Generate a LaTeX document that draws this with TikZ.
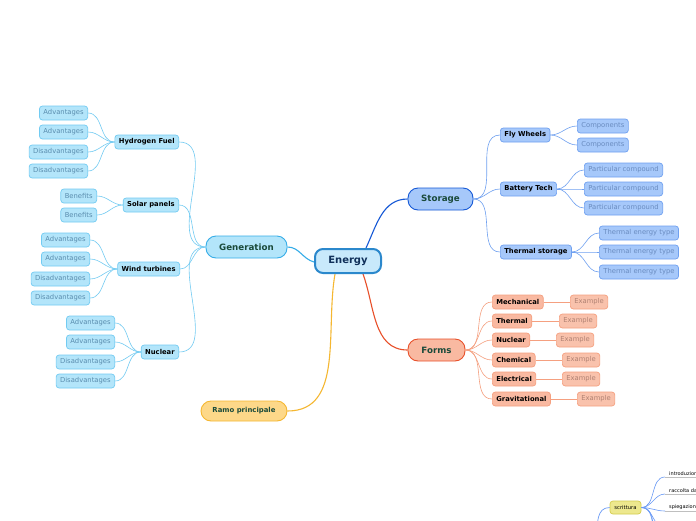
\documentclass[tikz,border=0pt]{standalone}
\usepackage{fontspec}
\setmainfont{DejaVu Sans}
\usetikzlibrary{backgrounds}
\definecolor{gfill}{HTML}{B3E5FA}
\definecolor{gline}{HTML}{72CBF2}
\definecolor{gtext}{HTML}{5A8DAE}
\definecolor{gmain}{HTML}{36ADE8}
\definecolor{efill}{HTML}{C8E9FB}
\definecolor{eline}{HTML}{2B88CC}
\definecolor{etext}{HTML}{10305A}
\definecolor{sfill}{HTML}{A6C8FA}
\definecolor{sline}{HTML}{6FA0F0}
\definecolor{smain}{HTML}{1558D6}
\definecolor{stext}{HTML}{6A8CC0}
\definecolor{ffill}{HTML}{F9B9A1}
\definecolor{fline}{HTML}{F5A080}
\definecolor{fmain}{HTML}{E8502A}
\definecolor{ftext}{HTML}{B08273}
\definecolor{xfill}{HTML}{F9C2AC}
\definecolor{rfill}{HTML}{FDD889}
\definecolor{rline}{HTML}{F5B731}
\definecolor{yfill}{HTML}{EDE88E}
\definecolor{yline}{HTML}{D4CC4E}
\definecolor{bline}{HTML}{6A9AF5}
\definecolor{mtext}{HTML}{1A4A3A}
\begin{document}
\begin{tikzpicture}[x=1pt,y=-1pt,
  base/.style={rounded corners=3pt, minimum height=14pt, inner xsep=4pt, inner ysep=0pt,
    font=\fontsize{6.8}{8}\selectfont, line width=0.7pt},
  bchild/.style={base, font=\fontsize{6.8}{8}\selectfont\bfseries, text=black},
  gleaf/.style={base, fill=gfill, draw=gline, text=gtext},
  gchild/.style={bchild, fill=gfill, draw=gline},
  sleaf/.style={base, fill=sfill, draw=sline, text=stext},
  schild/.style={bchild, fill=sfill, draw=sline},
  fleaf/.style={base, fill=xfill, draw=fline, text=ftext},
  fchild/.style={bchild, fill=ffill, draw=fline},
  topic/.style={rounded corners=10pt, minimum height=22pt, inner sep=0pt, line width=0.9pt,
    font=\fontsize{8.7}{10}\selectfont\bfseries, text=mtext},
  maincon/.style={line width=1.1pt},
  gcon/.style={draw=gline, line width=0.6pt},
  scon/.style={draw=sline, line width=0.6pt},
  fcon/.style={draw=fline, line width=0.6pt},
]
\clip (0,0) rectangle (696,520);

% main nodes
\node[rounded corners=8pt, minimum width=66pt, minimum height=24pt, inner sep=0pt,
  fill=efill, draw=eline, line width=2pt, text=etext,
  font=\fontsize{10}{12}\selectfont\bfseries] (en) at (348,261) {Energy};
\node[topic, minimum width=81pt, fill=gfill, draw=gmain] (ge) at (246.5,247) {Generation};
\node[topic, minimum width=65pt, fill=sfill, draw=smain] (st) at (440.5,199) {Storage};
\node[topic, minimum width=57pt, fill=ffill, draw=fmain] (fo) at (436.5,350) {Forms};
\node[topic, minimum width=86pt, minimum height=20pt, fill=rfill, draw=rline,
  font=\fontsize{6.9}{8}\selectfont\bfseries] (ra) at (244,411) {Ramo principale};

% main connectors (under the nodes)
\begin{scope}[on background layer]
\fill[white] (0,0) rectangle (696,520);
\draw[maincon, draw=gmain] ([yshift=-1pt]en.west) to[out=165,in=0] (ge.east);
\draw[maincon, draw=smain] ([xshift=18pt]en.north) to[out=65,in=180] (st.west);
\draw[maincon, draw=fmain] ([xshift=15pt]en.south) to[out=-70,in=180] (fo.west);
\draw[maincon, draw=rline] ([xshift=-13pt]en.south) to[out=-100,in=0] (ra.east);
\end{scope}

% Generation
\node[gchild, anchor=east] (g1) at (179,142) {Hydrogen Fuel};
\node[gchild, anchor=east] (g2) at (179,205) {Solar panels};
\node[gchild, anchor=east] (g3) at (180,269) {Wind turbines};
\node[gchild, anchor=east] (g4) at (179,352) {Nuclear};
\foreach \c in {g1,g2,g3,g4} \draw[gcon] (ge.west) to[out=180,in=0] (\c.east);

\node[gleaf, anchor=east] (g11) at (88,113) {Advantages};
\node[gleaf, anchor=east] (g12) at (88,132) {Advantages};
\node[gleaf, anchor=east] (g13) at (88,152) {Disadvantages};
\node[gleaf, anchor=east] (g14) at (88,171) {Disadvantages};
\node[gleaf, anchor=east] (g21) at (97,196) {Benefits};
\node[gleaf, anchor=east] (g22) at (97,215) {Benefits};
\node[gleaf, anchor=east] (g31) at (90,240) {Advantages};
\node[gleaf, anchor=east] (g32) at (90,259) {Advantages};
\node[gleaf, anchor=east] (g33) at (90,279) {Disadvantages};
\node[gleaf, anchor=east] (g34) at (90,298) {Disadvantages};
\node[gleaf, anchor=east] (g41) at (115,323) {Advantages};
\node[gleaf, anchor=east] (g42) at (115,342) {Advantages};
\node[gleaf, anchor=east] (g43) at (115,362) {Disadvantages};
\node[gleaf, anchor=east] (g44) at (115,381) {Disadvantages};
\foreach \p/\c in {g1/g11,g1/g12,g1/g13,g1/g14,g2/g21,g2/g22,g3/g31,g3/g32,g3/g33,g3/g34,g4/g41,g4/g42,g4/g43,g4/g44}
  \draw[gcon] (\p.west) to[out=180,in=0] (\c.east);

% Storage
\node[schild, anchor=west] (s1) at (500,135) {Fly Wheels};
\node[schild, anchor=west] (s2) at (500,189) {Battery Tech};
\node[schild, anchor=west] (s3) at (500,252) {Thermal storage};
\foreach \c in {s1,s2,s3} \draw[scon] (st.east) to[out=0,in=180] (\c.west);
\node[sleaf, anchor=west] (s11) at (577,126) {Components};
\node[sleaf, anchor=west] (s12) at (577,145) {Components};
\node[sleaf, anchor=west] (s21) at (584,170) {Particular compound};
\node[sleaf, anchor=west] (s22) at (584,189) {Particular compound};
\node[sleaf, anchor=west] (s23) at (584,208) {Particular compound};
\node[sleaf, anchor=west] (s31) at (599,233) {Thermal energy type};
\node[sleaf, anchor=west] (s32) at (599,252) {Thermal energy type};
\node[sleaf, anchor=west] (s33) at (599,272) {Thermal energy type};
\foreach \p/\c in {s1/s11,s1/s12,s2/s21,s2/s22,s2/s23,s3/s31,s3/s32,s3/s33}
  \draw[scon] (\p.east) to[out=0,in=180] (\c.west);

% Forms
\node[fchild, anchor=west] (f1) at (492,302) {Mechanical};
\node[fchild, anchor=west] (f2) at (492,321) {Thermal};
\node[fchild, anchor=west] (f3) at (492,340) {Nuclear};
\node[fchild, anchor=west] (f4) at (492,360) {Chemical};
\node[fchild, anchor=west] (f5) at (492,379) {Electrical};
\node[fchild, anchor=west] (f6) at (492,399) {Gravitational};
\foreach \c in {f1,f2,f3,f4,f5,f6} \draw[fcon] (fo.east) to[out=0,in=180] (\c.west);
\node[fleaf, anchor=west] (f11) at (570,302) {Example};
\node[fleaf, anchor=west] (f21) at (559,321) {Example};
\node[fleaf, anchor=west] (f31) at (556,340) {Example};
\node[fleaf, anchor=west] (f41) at (562,360) {Example};
\node[fleaf, anchor=west] (f51) at (562,379) {Example};
\node[fleaf, anchor=west] (f61) at (577,399) {Example};
\foreach \p/\c in {f1/f11,f2/f21,f3/f31,f4/f41,f5/f51,f6/f61}
  \draw[fcon] (\p.east) -- (\c.west);

% scrittura (partly off the picture)
\node[rounded corners=3pt, minimum width=31pt, minimum height=13pt, inner sep=0pt,
  fill=yfill, draw=yline, line width=0.7pt, font=\fontsize{5.3}{6}\selectfont] (sc) at (625.5,507.5) {scrittura};
\coordinate (sp) at (585,570);
\draw[draw=bline, line width=0.7pt] (sp) to[out=0,in=180] (sc.west);
\coordinate (c1) at (665,477);
\coordinate (c2) at (665,494);
\coordinate (c3) at (665,511);
\coordinate (c4) at (665,528);
\coordinate (c5) at (665,545);
\coordinate (c6) at (665,562);
\foreach \c in {c1,c2,c3,c4,c5,c6} {
  \draw[draw=bline, line width=0.6pt] (sc.east) to[out=0,in=180] (\c);
  \draw[draw=gray!50, line width=0.6pt] (\c) -- ++(40,0);
}
\node[anchor=south west, inner sep=1pt, font=\fontsize{5}{6}\selectfont] (t1) at (c1) {\hspace{3pt}introduzione};
\node[anchor=south west, inner sep=1pt, font=\fontsize{5}{6}\selectfont] (t2) at (c2) {\hspace{3pt}raccolta dati};
\node[anchor=south west, inner sep=1pt, font=\fontsize{5}{6}\selectfont] (t3) at (c3) {\hspace{3pt}spiegazione};
\end{tikzpicture}
\end{document}
